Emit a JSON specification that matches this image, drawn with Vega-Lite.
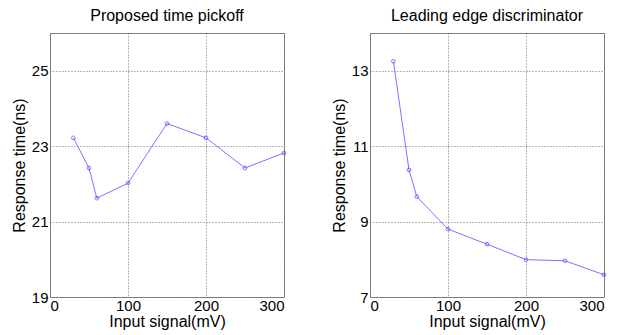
{
  "$schema": "https://vega.github.io/schema/vega-lite/v6.json",
  "padding": {"left": 10, "top": 7, "right": 5, "bottom": 5},
  "bounds": "flush",
  "background": "white",
  "datasets": {
    "proposed": [
      {"signal": 30, "time": 23.22}, {"signal": 50, "time": 22.42}, {"signal": 60, "time": 21.62},
      {"signal": 100, "time": 22.02}, {"signal": 150, "time": 23.6}, {"signal": 200, "time": 23.22},
      {"signal": 250, "time": 22.42}, {"signal": 300, "time": 22.82}
    ],
    "leading": [
      {"signal": 30, "time": 13.25}, {"signal": 50, "time": 10.37}, {"signal": 60, "time": 9.66},
      {"signal": 100, "time": 8.8}, {"signal": 150, "time": 8.4}, {"signal": 200, "time": 7.99},
      {"signal": 250, "time": 7.96}, {"signal": 300, "time": 7.59}
    ]
  },
  "config": {
    "font": "Liberation Sans",
    "view": {"stroke": "#808080", "strokeWidth": 1},
    "concat": {"spacing": 86},
    "title": {"fontSize": 16, "fontWeight": "normal", "color": "black", "offset": 9},
    "axis": {
      "domain": false,
      "grid": true,
      "gridColor": "#707070",
      "gridDash": [1, 2],
      "gridOpacity": 1,
      "ticks": false,
      "labelFontSize": 15,
      "labelColor": "black",
      "titleFontSize": 16,
      "titleFontWeight": "normal",
      "titleColor": "black"
    }
  },
  "hconcat": [
    {
      "width": 234, "height": 264,
      "title": "Proposed time pickoff",
      "data": {"name": "proposed"},
      "encoding": {
        "x": {"field": "signal", "type": "quantitative", "scale": {"domain": [0, 300], "nice": false},
              "axis": {"values": [0, 100, 200, 300], "title": "Input signal(mV)", "labelPadding": 1, "titlePadding": 0}},
        "y": {"field": "time", "type": "quantitative", "scale": {"domain": [19, 26], "nice": false, "zero": false},
              "axis": {"values": [19, 21, 23, 25], "title": "Response time(ns)", "labelPadding": 2, "titlePadding": 4}}
      },
      "layer": [
        {"mark": {"type": "line", "color": "#7878ff", "strokeWidth": 1}},
        {"mark": {"type": "point", "shape": "circle", "filled": false, "color": "#4848ff", "size": 14, "strokeWidth": 1}}
      ]
    },
    {
      "width": 234, "height": 264,
      "title": "Leading edge discriminator",
      "data": {"name": "leading"},
      "encoding": {
        "x": {"field": "signal", "type": "quantitative", "scale": {"domain": [0, 300], "nice": false},
              "axis": {"values": [0, 100, 200, 300], "title": "Input signal(mV)", "labelPadding": 1, "titlePadding": 0}},
        "y": {"field": "time", "type": "quantitative", "scale": {"domain": [7, 14], "nice": false, "zero": false},
              "axis": {"values": [7, 9, 11, 13], "title": "Response time(ns)", "labelPadding": 2, "titlePadding": 4}}
      },
      "layer": [
        {"mark": {"type": "line", "color": "#7878ff", "strokeWidth": 1}},
        {"mark": {"type": "point", "shape": "circle", "filled": false, "color": "#4848ff", "size": 14, "strokeWidth": 1}}
      ]
    }
  ],
  "resolve": {"scale": {"y": "independent"}}
}
